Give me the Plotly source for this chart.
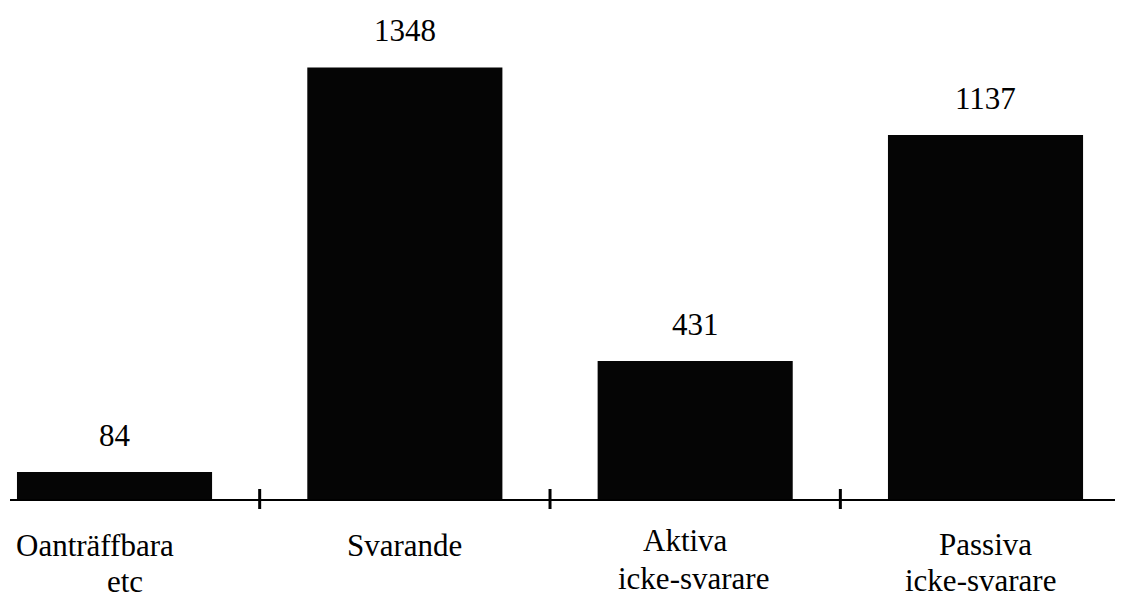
import plotly.graph_objects as go

categories = ["Oanträffbara\netc", "Svarande", "Aktiva\nicke-svarare", "Passiva\nicke-svarare"]
values = [84, 1348, 431, 1137]
dividers = [0.5, 1.5, 2.5]

x = list(range(len(categories)))
FONT = "Liberation Serif, Times New Roman, serif"
FS = 31

fig = go.Figure()
fig.add_trace(go.Bar(
    x=x, y=values, width=0.672,
    marker=dict(color="#050505", line=dict(width=0)),
    hoverinfo="skip",
))

annotations = []
# value labels above bars
for xi, v in zip(x, values):
    annotations.append(dict(
        x=xi, y=v, xref="x", yref="y", text=str(v), showarrow=False,
        yanchor="middle", yshift=37, font=dict(family=FONT, size=FS, color="black"),
    ))
# category labels below axis, one annotation per line
line_x = [[-20, 10], [0], [-10, -2], [0, -5]]
line_y = [[46, 82], [46], [41, 79], [45, 81]]
for xi, cat in zip(x, categories):
    for li, txt in enumerate(cat.split("\n")):
        annotations.append(dict(
            x=xi, y=0, xref="x", yref="y", text=txt, showarrow=False,
            yanchor="middle", yshift=-line_y[xi][li], borderpad=0,
            xshift=line_x[xi][li],
            font=dict(family=FONT, size=FS, color="black"),
        ))

shapes = []
for d in dividers:
    shapes.append(dict(type="line", xref="x", yref="paper", x0=d, x1=d,
                       y0=-0.0218, y1=0.0218, line=dict(color="black", width=3)))

fig.update_layout(
    width=1128, height=599,
    margin=dict(l=2, r=21, t=32, b=108),
    paper_bgcolor="white", plot_bgcolor="white",
    showlegend=False,
    annotations=annotations,
    shapes=shapes,
    xaxis=dict(range=[-0.36, 3.446], showgrid=False, zeroline=False,
               showline=True, linecolor="black", linewidth=2,
               showticklabels=False, ticks=""),
    yaxis=dict(range=[0, 1434], visible=False, showgrid=False, zeroline=False),
)

fig.write_html("out.html", config={"displayModeBar": False})
